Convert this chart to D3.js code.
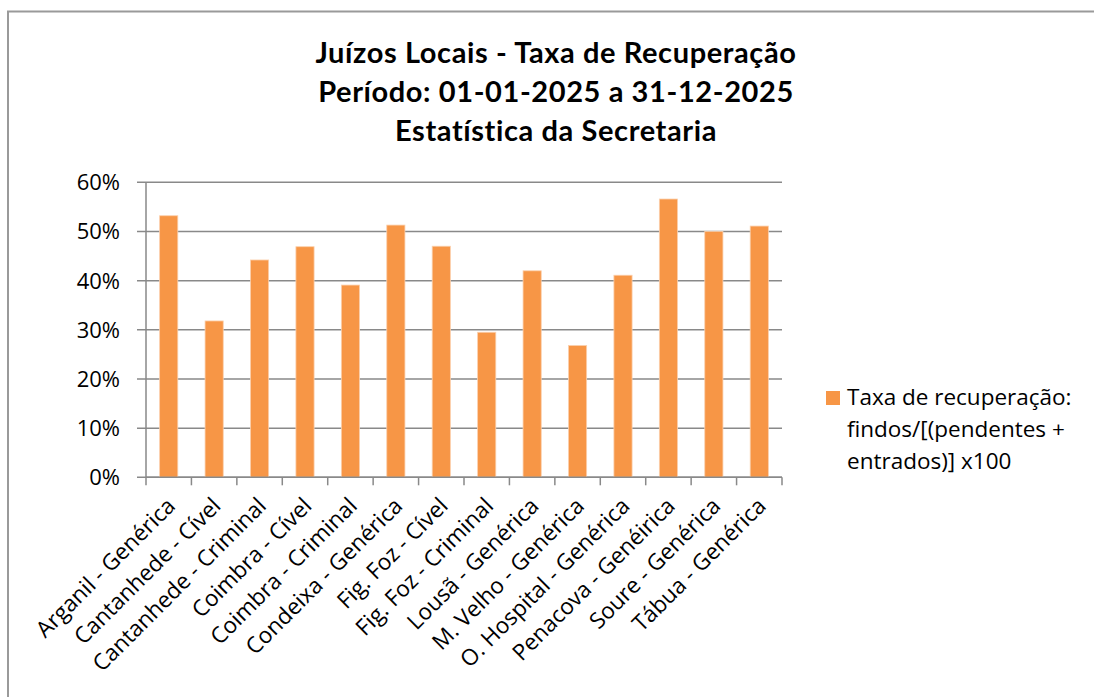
<!DOCTYPE html>
<html>
<head>
<meta charset="utf-8">
<script src="https://cdn.jsdelivr.net/npm/d3@7"></script>
<style>
  body { margin: 0; background: #fff; }
  svg { display: block; font-family: "Open Sans", "Noto Sans", sans-serif; }
  .title { font-family: Lato, "Open Sans", sans-serif; font-weight: bold; font-size: 29px; letter-spacing: 0.6px; }
</style>
</head>
<body>
<svg id="chart" width="1094" height="697"></svg>
<script>
const categories = [
  "Arganil - Genérica", "Cantanhede - Cível", "Cantanhede - Criminal", "Coimbra - Cível",
  "Coimbra - Criminal", "Condeixa - Genérica", "Fig. Foz - Cível", "Fig. Foz - Criminal",
  "Lousã - Genérica", "M. Velho - Genérica", "O. Hospital - Genérica", "Penacova - Genéirica",
  "Soure - Genérica", "Tábua - Genérica"
];
const values = [0.532, 0.318, 0.442, 0.469, 0.391, 0.513, 0.470, 0.295, 0.420, 0.268, 0.411, 0.566, 0.500, 0.511];
const yTicks = [0, 0.1, 0.2, 0.3, 0.4, 0.5, 0.6];
const titleLines = ["Juízos Locais - Taxa de Recuperação", "Período: 01-01-2025 a 31-12-2025", "Estatística da Secretaria"];
const legendLines = ["Taxa de recuperação:", "findos/[(pendentes +", "entrados)] x100"];

const svg = d3.select("#chart");
const plotLeft = 146, plotRight = 782, plotTop = 182.3, plotBottom = 477.3;
const barColor = "#F79646", gridColor = "#898989";

// chart border
svg.append("rect")
  .attr("x", 8).attr("y", 11.5)
  .attr("width", 1200).attr("height", 800)
  .attr("fill", "none").attr("stroke", "#9a9a9a").attr("stroke-width", 2);

// title
svg.append("g").selectAll("text")
  .data(titleLines).enter().append("text")
  .attr("class", "title")
  .attr("x", 556).attr("y", (d, i) => 63 + i * 39)
  .attr("text-anchor", "middle")
  .text(d => d);

const x = d3.scaleBand().domain(categories).range([plotLeft, plotRight]).paddingInner(0.6).paddingOuter(0.3);
const y = d3.scaleLinear().domain([0, 0.6]).range([plotBottom, plotTop]);

// gridlines + y ticks
svg.append("g").selectAll("line")
  .data(yTicks).enter().append("line")
  .attr("x1", plotLeft - 9).attr("x2", plotRight)
  .attr("y1", d => y(d)).attr("y2", d => y(d))
  .attr("stroke", gridColor).attr("stroke-width", 1.5);

svg.append("g").selectAll("text")
  .data(yTicks).enter().append("text")
  .attr("x", 120).attr("y", d => y(d) + 8)
  .attr("text-anchor", "end")
  .style("font-size", "22px")
  .text(d => d3.format(".0%")(d));

// y axis line
svg.append("line")
  .attr("x1", plotLeft).attr("x2", plotLeft).attr("y1", plotTop).attr("y2", plotBottom)
  .attr("stroke", gridColor).attr("stroke-width", 1.5);

// bars
svg.append("g").selectAll("rect")
  .data(values).enter().append("rect")
  .attr("x", (d, i) => x(categories[i]))
  .attr("y", d => y(d))
  .attr("width", x.bandwidth())
  .attr("height", d => plotBottom - y(d))
  .attr("fill", barColor)
  .attr("stroke", "#fbd0ad").attr("stroke-width", 0.8);

// x axis
const step = (plotRight - plotLeft) / categories.length;
svg.append("line")
  .attr("x1", plotLeft).attr("x2", plotRight).attr("y1", plotBottom).attr("y2", plotBottom)
  .attr("stroke", gridColor).attr("stroke-width", 1.5);
svg.append("g").selectAll("line")
  .data(d3.range(categories.length + 1)).enter().append("line")
  .attr("x1", i => plotLeft + i * step).attr("x2", i => plotLeft + i * step)
  .attr("y1", plotBottom).attr("y2", plotBottom + 8)
  .attr("stroke", gridColor).attr("stroke-width", 1.5);

// x labels
svg.append("g").selectAll("text")
  .data(categories).enter().append("text")
  .attr("transform", d => `translate(${x(d) + x.bandwidth() / 2 + 8},${plotBottom + 30}) rotate(-45)`)
  .attr("text-anchor", "end")
  .style("font-size", "22.5px")
  .text(d => d);

// legend
svg.append("rect")
  .attr("x", 826).attr("y", 391).attr("width", 14).attr("height", 14)
  .attr("fill", barColor);
svg.append("g").selectAll("text")
  .data(legendLines).enter().append("text")
  .attr("x", 847).attr("y", (d, i) => 405 + i * 32)
  .style("font-size", "22.5px")
  .text(d => d);
</script>
</body>
</html>
